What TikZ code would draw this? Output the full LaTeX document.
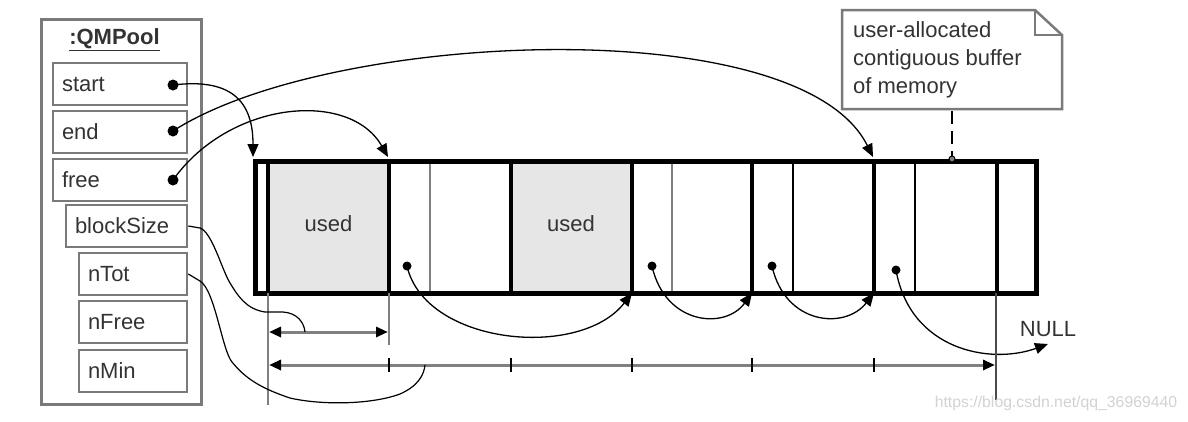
\documentclass[tikz,border=0pt]{standalone}
\usepackage{fontspec}
\setmainfont{Liberation Sans}
\usetikzlibrary{arrows.meta}
\definecolor{txt}{HTML}{333333}
\definecolor{boxgray}{HTML}{7A7A7A}
\definecolor{usedfill}{HTML}{E6E6E6}
\definecolor{dimgray}{HTML}{808080}
\definecolor{wm}{HTML}{D2D2D2}
\begin{document}
\begin{tikzpicture}[x=1pt,y=-1pt,
  field/.style={draw=boxgray, line width=2.5pt, minimum height=42pt, inner xsep=9pt, inner ysep=0pt,
                align=left, font=\fontsize{22}{24}\selectfont, text=txt},
  lbl/.style={font=\fontsize{22}{24}\selectfont, text=txt, inner sep=0pt},
  dot/.style={circle, fill=black, inner sep=0pt, minimum size=11pt},
  sdot/.style={circle, fill=black, inner sep=0pt, minimum size=9pt},
  conn/.style={line width=1.3pt, -{Triangle[length=13pt,width=11pt]}},
  wavy/.style={line width=1.2pt},
  thick line/.style={line width=4.5pt},
  dimline/.style={draw=dimgray, line width=3pt},
  dimtip/.style={{Triangle[length=12pt,width=10pt,color=black]}-{Triangle[length=12pt,width=10pt,color=black]}},
]
\useasboundingbox (0,0) rectangle (1188,421);

% ---- QMPool object ----
\node[draw=boxgray, line width=3pt, minimum width=160pt, minimum height=385pt, anchor=north west, inner sep=0pt] (pool) at (40,18) {};
\node[lbl, font=\fontsize{22}{24}\selectfont\bfseries] (title) at (114.5,40) {\underline{:QMPool}};

\node[field, text width=116pt] (start) at (120,84) {start};
\node[field, text width=116pt] (end) at (120,132) {end};
\node[field, text width=116pt] (free) at (120,180) {free};
\node[field, text width=103pt] (bsize) at (126.5,226) {blockSize};
\node[field, text width=90pt] (ntot) at (133,274) {nTot};
\node[field, text width=90pt] (nfree) at (133,322) {nFree};
\node[field, text width=90pt] (nmin) at (133,371) {nMin};

\node[dot] (sdot) at (173,85) {};
\node[dot] (edot) at (173,131) {};
\node[dot] (fdot) at (173,180) {};

% ---- buffer ----
\fill[usedfill] (268,159) rectangle (389,291);
\fill[usedfill] (511,159) rectangle (632,291);
\node[lbl] (used1) at (328.5,224) {used};
\node[lbl] (used2) at (571,224) {used};

\draw[draw=dimgray, line width=2pt] (430,159) -- (430,291);
\draw[draw=dimgray, line width=2pt] (672,159) -- (672,291);
\draw[line width=1.6pt] (793,159) -- (793,291);
\draw[line width=1.6pt] (915,159) -- (915,291);
\foreach \x in {268,389,511,632,752,874,997}
  \draw[thick line] (\x,159) -- (\x,291);
\node[draw, thick line, minimum width=781pt, minimum height=132pt, inner sep=0pt, anchor=north west] (buf) at (253,159) {};

% named points on the buffer
\coordinate (bufL) at (253,157);
\coordinate (top1) at (388,157);
\coordinate (top5) at (873,157);
\coordinate (bot3) at (632,293);
\coordinate (bot4) at (752,293);
\coordinate (bot5) at (874,293);
\node[sdot] (d1) at (407,266) {};
\node[sdot] (d2) at (652,266) {};
\node[sdot] (d3) at (772,266) {};
\node[sdot] (d4) at (896,270) {};

% ---- pointers from the pool ----
\draw[conn] (sdot.center) .. controls (230,78) and (253,100) .. (bufL);
\draw[conn] (edot.center) .. controls (330,30) and (800,10) .. (top5);
\draw[conn] (fdot.center) .. controls (230,100) and (350,90) .. (top1);

% ---- free list ----
\draw[conn] (d1.center) .. controls (425,345) and (580,360) .. (bot3);
\draw[conn] (d2.center) .. controls (665,325) and (725,330) .. (bot4);
\draw[conn] (d3.center) .. controls (785,325) and (845,330) .. (bot5);
\node[lbl] (null) at (1048,329) {NULL};
\coordinate (nullpt) at (1048,344);
\draw[conn] (d4.center) .. controls (910,350) and (990,365) .. (nullpt);

% ---- note ----
\draw[draw=boxgray, line width=2.5pt, fill=white, line join=miter]
  (842,10) -- (1035,10) -- (1062,35) -- (1062,109) -- (842,109) -- cycle;
\draw[draw=boxgray, line width=2pt] (1035,10) -- (1035,35) -- (1062,35);
\node[lbl, anchor=base west] (n1) at (853,37) {user-allocated};
\node[lbl, anchor=base west] (n2) at (853,65) {contiguous buffer};
\node[lbl, anchor=base west] (n3) at (853,93) {of memory};
\coordinate (noteb) at (952,111);
\coordinate (bufpt) at (952,159);
\draw[line width=2pt, dash pattern=on 13pt off 7pt] (noteb) -- (bufpt);
\draw[line width=1pt, fill=dimgray] (bufpt) circle (3);

% ---- dimension lines ----
\draw[draw=dimgray, line width=2.5pt] (268,293) -- (268,405);
\draw[draw=dimgray, line width=2.5pt] (389,293) -- (389,345);
\draw[draw=black!70, line width=2pt] (996,293) -- (996,400);
\coordinate (s1) at (268,332);
\coordinate (s2) at (389,332);
\draw[dimline, dimtip, shorten <=1pt, shorten >=1pt] (s1) -- (s2);
\coordinate (l1) at (268,365);
\coordinate (l2) at (996,365);
\draw[dimline, dimtip, shorten <=1pt, shorten >=1pt] (l1) -- (l2);
\foreach \x in {389,511,632,752,874}
  \draw[line width=1.6pt] (\x,358) -- (\x,372);

% ---- wavy connectors ----
\coordinate (bsEnd) at (305,332);
\coordinate (ntEnd) at (425,365);
\draw[wavy] (bsize.east) -- (200,228) .. controls (212,232) and (222,270) .. (230,283)
  .. controls (238,296) and (246,309) .. (265,312) -- (283,312) .. controls (297,313) and (304,322) .. (bsEnd);
\draw[wavy] (ntot.east) -- (200,281) .. controls (215,290) and (222,350) .. (232,362)
  .. controls (245,378) and (260,388) .. (290,398) .. controls (320,405) and (370,405) .. (400,394)
  .. controls (418,386) and (424,375) .. (ntEnd);

% ---- watermark ----
\node[font=\fontsize{15.8}{17}\selectfont, text=wm, inner sep=0pt] (wmark) at (1056,403) {https://blog.csdn.net/qq\_36969440};
\end{tikzpicture}
\end{document}
